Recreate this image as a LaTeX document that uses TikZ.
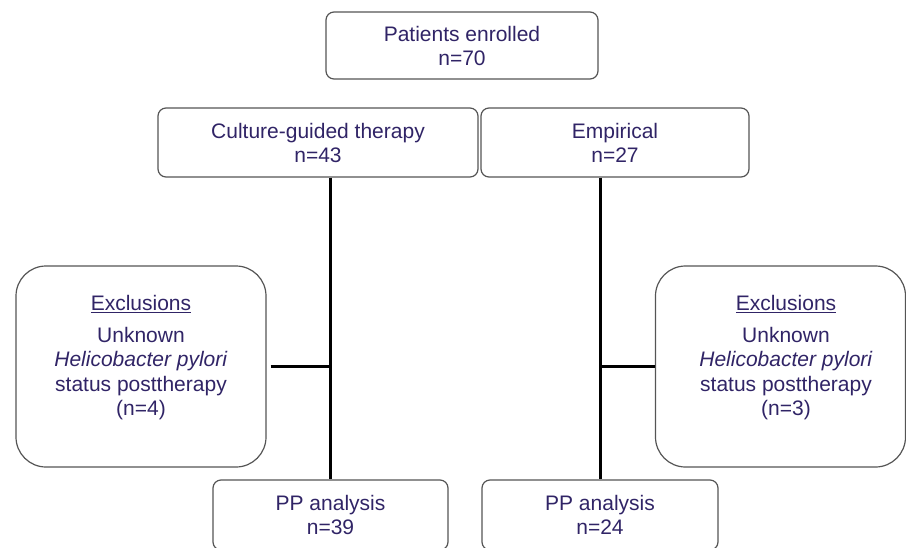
\documentclass[tikz,border=0pt]{standalone}
\usepackage{fontspec}
\setmainfont{Liberation Sans}
\usetikzlibrary{calc}
\definecolor{boxtext}{RGB}{48,36,102}
\definecolor{boxline}{RGB}{85,85,85}
\tikzset{
  box/.style={draw=boxline, line width=1.2pt, rounded corners=8pt, text=boxtext, align=center, font=\fontsize{21}{24}\selectfont, inner sep=0pt},
  exclbox/.style={box, rounded corners=30pt, minimum width=250pt, minimum height=201pt},
  txt/.style={text=boxtext, align=center, font=\fontsize{21}{24.5}\selectfont, inner sep=0pt},
  link/.style={line width=3pt, black},
}
\begin{document}
\begin{tikzpicture}[x=1pt,y=-1pt]
        \useasboundingbox (0,0) rectangle (906,547);
        \node[box, minimum width=272pt, minimum height=67pt] (enrolled) at (462,45.5) {Patients enrolled\\n=70};
        \node[box, minimum width=320pt, minimum height=69pt] (culture) at (318,142.5) {Culture-guided therapy\\n=43};
        \node[box, minimum width=268pt, minimum height=69pt] (empirical) at (615,142.5) {Empirical\\n=27};

        \node[exclbox] (exclL) at (141,366.5) {};
        \node[txt] (exclLtext) at (141,358) {\underline{Exclusions}\\[7pt]Unknown\\\textit{Helicobacter pylori}\\status posttherapy\\(n=4)};
        \node[exclbox] (exclR) at (780.5,366.5) {};
        \node[txt] (exclRtext) at (786,358) {\underline{Exclusions}\\[7pt]Unknown\\\textit{Helicobacter pylori}\\status posttherapy\\(n=3)};

        \node[box, minimum width=235pt, minimum height=70pt] (ppL) at (330.5,515) {PP analysis\\n=39};
        \node[box, minimum width=236pt, minimum height=70pt] (ppR) at (600,515) {PP analysis\\n=24};

        \coordinate (jL) at (ppL.north |- exclL.east);
        \coordinate (jR) at (ppR.north |- exclR.west);
        \draw[link] (ppL.north |- culture.south) -- (ppL.north);
        \draw[link] (ppR.north |- empirical.south) -- (ppR.north);
        \draw[link, shorten <=4pt] (exclL.east) -- (jL);
        \draw[link] (jR) -- (exclR.west);
    \end{tikzpicture}
\end{document}
